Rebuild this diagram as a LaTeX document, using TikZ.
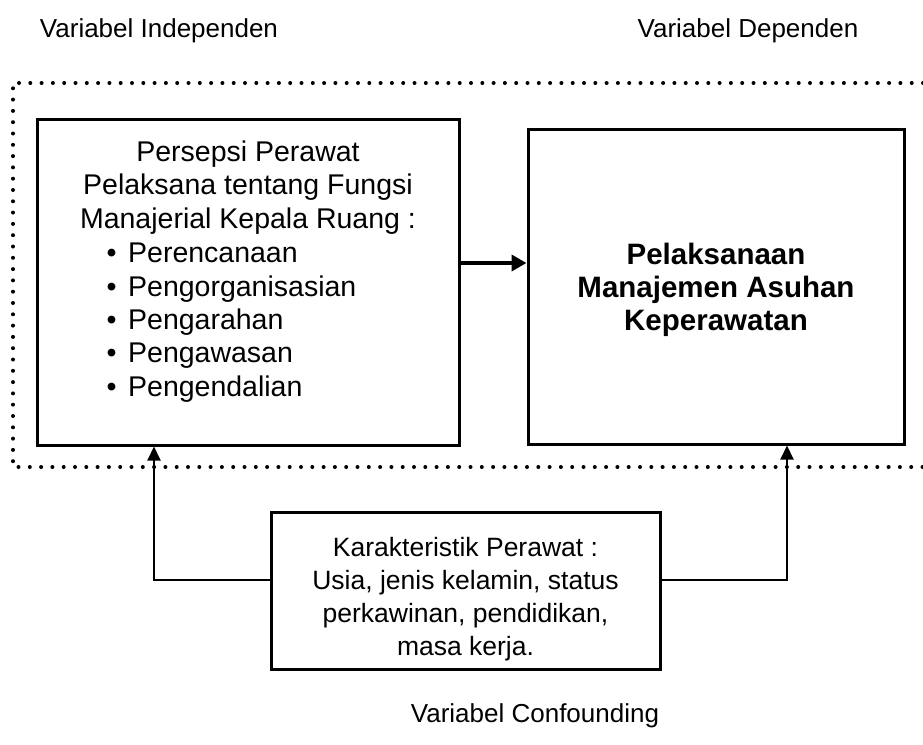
\documentclass[tikz,border=0pt]{standalone}
\usepackage{fontspec}
\setmainfont{Liberation Sans}
\usetikzlibrary{arrows.meta,positioning}

\newcommand{\butir}{\textbullet\hspace{11.5pt}}

\tikzset{
  kotak/.style={draw, line width=3pt, inner sep=0pt},
  panah/.style={line width=2pt, -{Triangle[length=14pt,width=13pt]}},
  teks/.style={inner sep=0pt, anchor=base, align=center},
}

\begin{document}
\begin{tikzpicture}[x=1pt,y=-1pt]
  \useasboundingbox (0,0) rectangle (923,744);

  % garis titik-titik (variabel independen dan dependen)
  \draw[line width=4pt, line cap=round, dash pattern=on 0pt off 11.3pt]
    (923,83) -- (13,83) -- (13,467) -- (923,467);

  % judul variabel
  \node[teks, font=\fontsize{26}{33}\selectfont] (indep) at (159,37) {Variabel Independen};
  \node[teks, font=\fontsize{26}{33}\selectfont] (dep) at (748,37) {Variabel Dependen};
  \node[teks, font=\fontsize{26}{33}\selectfont] (conf) at (535,722) {Variabel Confounding};

  % kotak-kotak
  \node[kotak, minimum width=422pt, minimum height=326pt] (persepsi) at (248,282) {};
  \node[kotak, minimum width=376pt, minimum height=315pt] (pelaksanaan) at (716,286.5) {};
  \node[kotak, minimum width=389pt, minimum height=157pt] (karakteristik) at (465.5,590.5) {};

  % isi kotak kiri (titik node = garis dasar baris terakhir)
  \node[teks, font=\fontsize{28.5}{33.5}\selectfont] (judulkiri) at (248,228)
    {Persepsi Perawat\\Pelaksana tentang Fungsi\\Manajerial Kepala Ruang :};
  \node[teks, anchor=base west, align=left, font=\fontsize{28.5}{33.3}\selectfont] (fungsi) at (106.5,396)
    {\butir Perencanaan\\\butir Pengorganisasian\\\butir Pengarahan\\\butir Pengawasan\\\butir Pengendalian};

  % isi kotak kanan
  \node[teks, font=\bfseries\fontsize{29.5}{33}\selectfont] (judulkanan) at (716,330)
    {Pelaksanaan\\Manajemen Asuhan\\Keperawatan};

  % isi kotak bawah
  \node[teks, font=\fontsize{26.5}{33}\selectfont] (judulbawah) at (465.5,655)
    {Karakteristik Perawat :\\Usia, jenis kelamin, status\\perkawinan, pendidikan,\\masa kerja.};

  % panah
  \coordinate (tengah) at (490,263);
  \coordinate (kiri) at (154,580);
  \coordinate (kanan) at (787,580);
  \draw[line width=4pt, -{Triangle[length=15pt,width=16pt]}] (persepsi.east |- tengah) -- (pelaksanaan.west |- tengah);
  \draw[panah] (karakteristik.west |- kiri) -| (persepsi.south -| kiri);
  \draw[panah] (karakteristik.east |- kanan) -| (pelaksanaan.south -| kanan);
\end{tikzpicture}
\end{document}
